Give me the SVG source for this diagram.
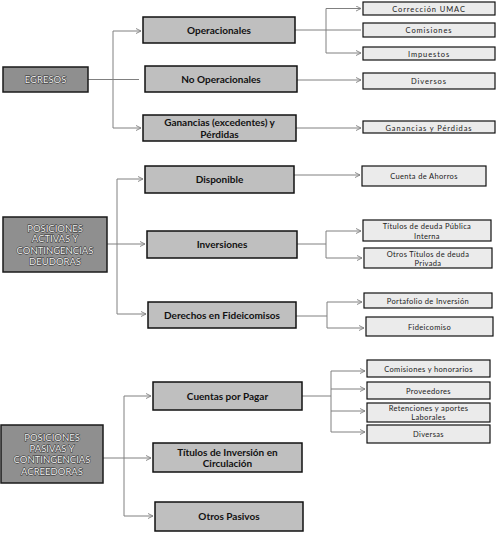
<svg xmlns="http://www.w3.org/2000/svg" width="496" height="533" viewBox="0 0 496 533">
<defs>
<marker id="arr" viewBox="0 0 6 6" refX="5.5" refY="3" markerWidth="6" markerHeight="6" markerUnits="userSpaceOnUse" orient="auto">
<path d="M0.5,0.5 L5.5,3 L0.5,5.5" fill="none" stroke="#808080" stroke-width="0.9"/>
</marker>
</defs>
<style>
.root rect{fill:#8f8f8f;stroke:#1a1a1a;stroke-width:1.5}
.root text{font-family:Lato,"Liberation Sans",sans-serif;font-size:9.5px;fill:#f2f2f2;stroke:#2a2a2a;stroke-width:1;paint-order:stroke;text-anchor:middle}
.main rect{fill:#bfbfbf;stroke:#111;stroke-width:1.5}
.main text{font-family:Lato,"Liberation Sans",sans-serif;font-size:10px;font-weight:bold;fill:#111;text-anchor:middle}
.leaf rect{fill:#ebebeb;stroke:#111;stroke-width:1.2}
.leaf text{font-family:Lato,"Liberation Sans",sans-serif;font-size:7.5px;fill:#222;text-anchor:middle;letter-spacing:0.35px}
.wide text{letter-spacing:0.9px}
#connectors path{fill:none;stroke:#808080;stroke-width:1}
#connectors .a{marker-end:url(#arr)}
</style>
<g id="connectors">
<path d="M88,79.5 H139"/>
<path d="M113,31 V128"/>
<path class="a" d="M113,31 H141"/>
<path class="a" d="M113,128 H141"/>
<path d="M295,30 H361"/>
<path d="M326,8.5 V53"/>
<path class="a" d="M326,8.5 H361"/>
<path class="a" d="M326,53 H361"/>
<path class="a" d="M297,80 H361"/>
<path class="a" d="M296,128 H361"/>
<path class="a" d="M107,244 H145"/>
<path d="M117,179 V314"/>
<path class="a" d="M117,179 H143"/>
<path class="a" d="M117,314 H146"/>
<path class="a" d="M294,175 H360"/>
<path d="M297,244 H326"/>
<path d="M326,231 V258"/>
<path class="a" d="M326,231 H361"/>
<path class="a" d="M326,258 H362"/>
<path d="M294,316 H327"/>
<path d="M327,302 V328"/>
<path class="a" d="M327,302 H362"/>
<path class="a" d="M327,328 H364"/>
<path class="a" d="M103,458 H151"/>
<path d="M124,396 V516"/>
<path class="a" d="M124,396 H151"/>
<path class="a" d="M124,516 H153"/>
<path d="M302,396 H331"/>
<path d="M331,371 V432"/>
<path class="a" d="M331,371 H365"/>
<path class="a" d="M331,389 H365"/>
<path class="a" d="M331,411 H365"/>
<path class="a" d="M331,432 H365"/>
</g>
<g id="egresos" class="root"><rect x="3" y="67" width="85" height="25"/><text x="45.5" y="83">EGRESOS</text></g>
<g id="operacionales" class="main"><rect x="143" y="17" width="152" height="26"/><text x="219" y="33.5">Operacionales</text></g>
<g id="no-operacionales" class="main"><rect x="145" y="66" width="152" height="26"/><text x="221" y="82.5">No Operacionales</text></g>
<g id="ganancias" class="main"><rect x="143" y="115" width="153" height="26"/><text x="219.5" y="126">Ganancias (excedentes) y</text><text x="219.5" y="137.5">Pérdidas</text></g>
<g id="correccion" class="leaf wide"><rect x="363" y="2" width="132" height="13"/><text x="429" y="11.5">Corrección UMAC</text></g>
<g id="comisiones" class="leaf wide"><rect x="363" y="23" width="132" height="14"/><text x="429" y="33">Comisiones</text></g>
<g id="impuestos" class="leaf wide"><rect x="363" y="47" width="132" height="13"/><text x="429" y="56.5">Impuestos</text></g>
<g id="diversos" class="leaf wide"><rect x="363" y="73" width="132" height="16"/><text x="429" y="84">Diversos</text></g>
<g id="ganancias-perdidas" class="leaf wide"><rect x="363" y="121" width="132" height="12"/><text x="429" y="130.5">Ganancias y Pérdidas</text></g>
<g id="activas" class="root"><rect x="3" y="217" width="104" height="55"/><text x="55" y="232">POSICIONES</text><text x="55" y="242">ACTIVAS Y</text><text x="55" y="254">CONTINGENCIAS</text><text x="55" y="265">DEUDORAS</text></g>
<g id="disponible" class="main"><rect x="145" y="166" width="149" height="27"/><text x="219.5" y="183">Disponible</text></g>
<g id="inversiones" class="main"><rect x="147" y="231" width="150" height="27"/><text x="222" y="248">Inversiones</text></g>
<g id="derechos" class="main"><rect x="148" y="302" width="148" height="26"/><text x="222" y="318.5">Derechos en Fideicomisos</text></g>
<g id="cuenta-ahorros" class="leaf"><rect x="362" y="166" width="124" height="20"/><text x="424" y="179">Cuenta de Ahorros</text></g>
<g id="titulos-publica" class="leaf"><rect x="363" y="220" width="128" height="21"/><text x="427" y="229">Títulos de deuda Pública</text><text x="427" y="238.5">Interna</text></g>
<g id="otros-titulos" class="leaf"><rect x="364" y="248" width="128" height="20"/><text x="428" y="256.5">Otros Títulos de deuda</text><text x="428" y="266">Privada</text></g>
<g id="portafolio" class="leaf"><rect x="364" y="293" width="128" height="15"/><text x="428" y="303.5">Portafolio de Inversión</text></g>
<g id="fideicomiso" class="leaf"><rect x="366" y="317" width="127" height="19"/><text x="429.5" y="329.5">Fideicomiso</text></g>
<g id="pasivas" class="root"><rect x="1" y="425" width="102" height="58"/><text x="52" y="440.5">POSICIONES</text><text x="52" y="451.5">PASIVAS  Y</text><text x="52" y="462.5">CONTINGENCIAS</text><text x="52" y="475">ACREEDORAS</text></g>
<g id="cuentas-pagar" class="main"><rect x="153" y="382" width="149" height="28"/><text x="227.5" y="399.5">Cuentas por Pagar</text></g>
<g id="titulos-inversion" class="main"><rect x="153" y="443" width="149" height="29"/><text x="227.5" y="455.5">Títulos de Inversión  en</text><text x="227.5" y="467">Circulación</text></g>
<g id="otros-pasivos" class="main"><rect x="155" y="502" width="148" height="29"/><text x="229" y="520">Otros Pasivos</text></g>
<g id="comisiones-honorarios" class="leaf"><rect x="367" y="360" width="123" height="17"/><text x="428.5" y="371.5">Comisiones y honorarios</text></g>
<g id="proveedores" class="leaf"><rect x="367" y="382" width="123" height="17"/><text x="428.5" y="393.5">Proveedores</text></g>
<g id="retenciones" class="leaf"><rect x="367" y="403" width="123" height="19"/><text x="428.5" y="410.5">Retenciones y aportes</text><text x="428.5" y="420">Laborales</text></g>
<g id="diversas" class="leaf"><rect x="367" y="425" width="123" height="18"/><text x="428.5" y="437">Diversas</text></g>
</svg>
